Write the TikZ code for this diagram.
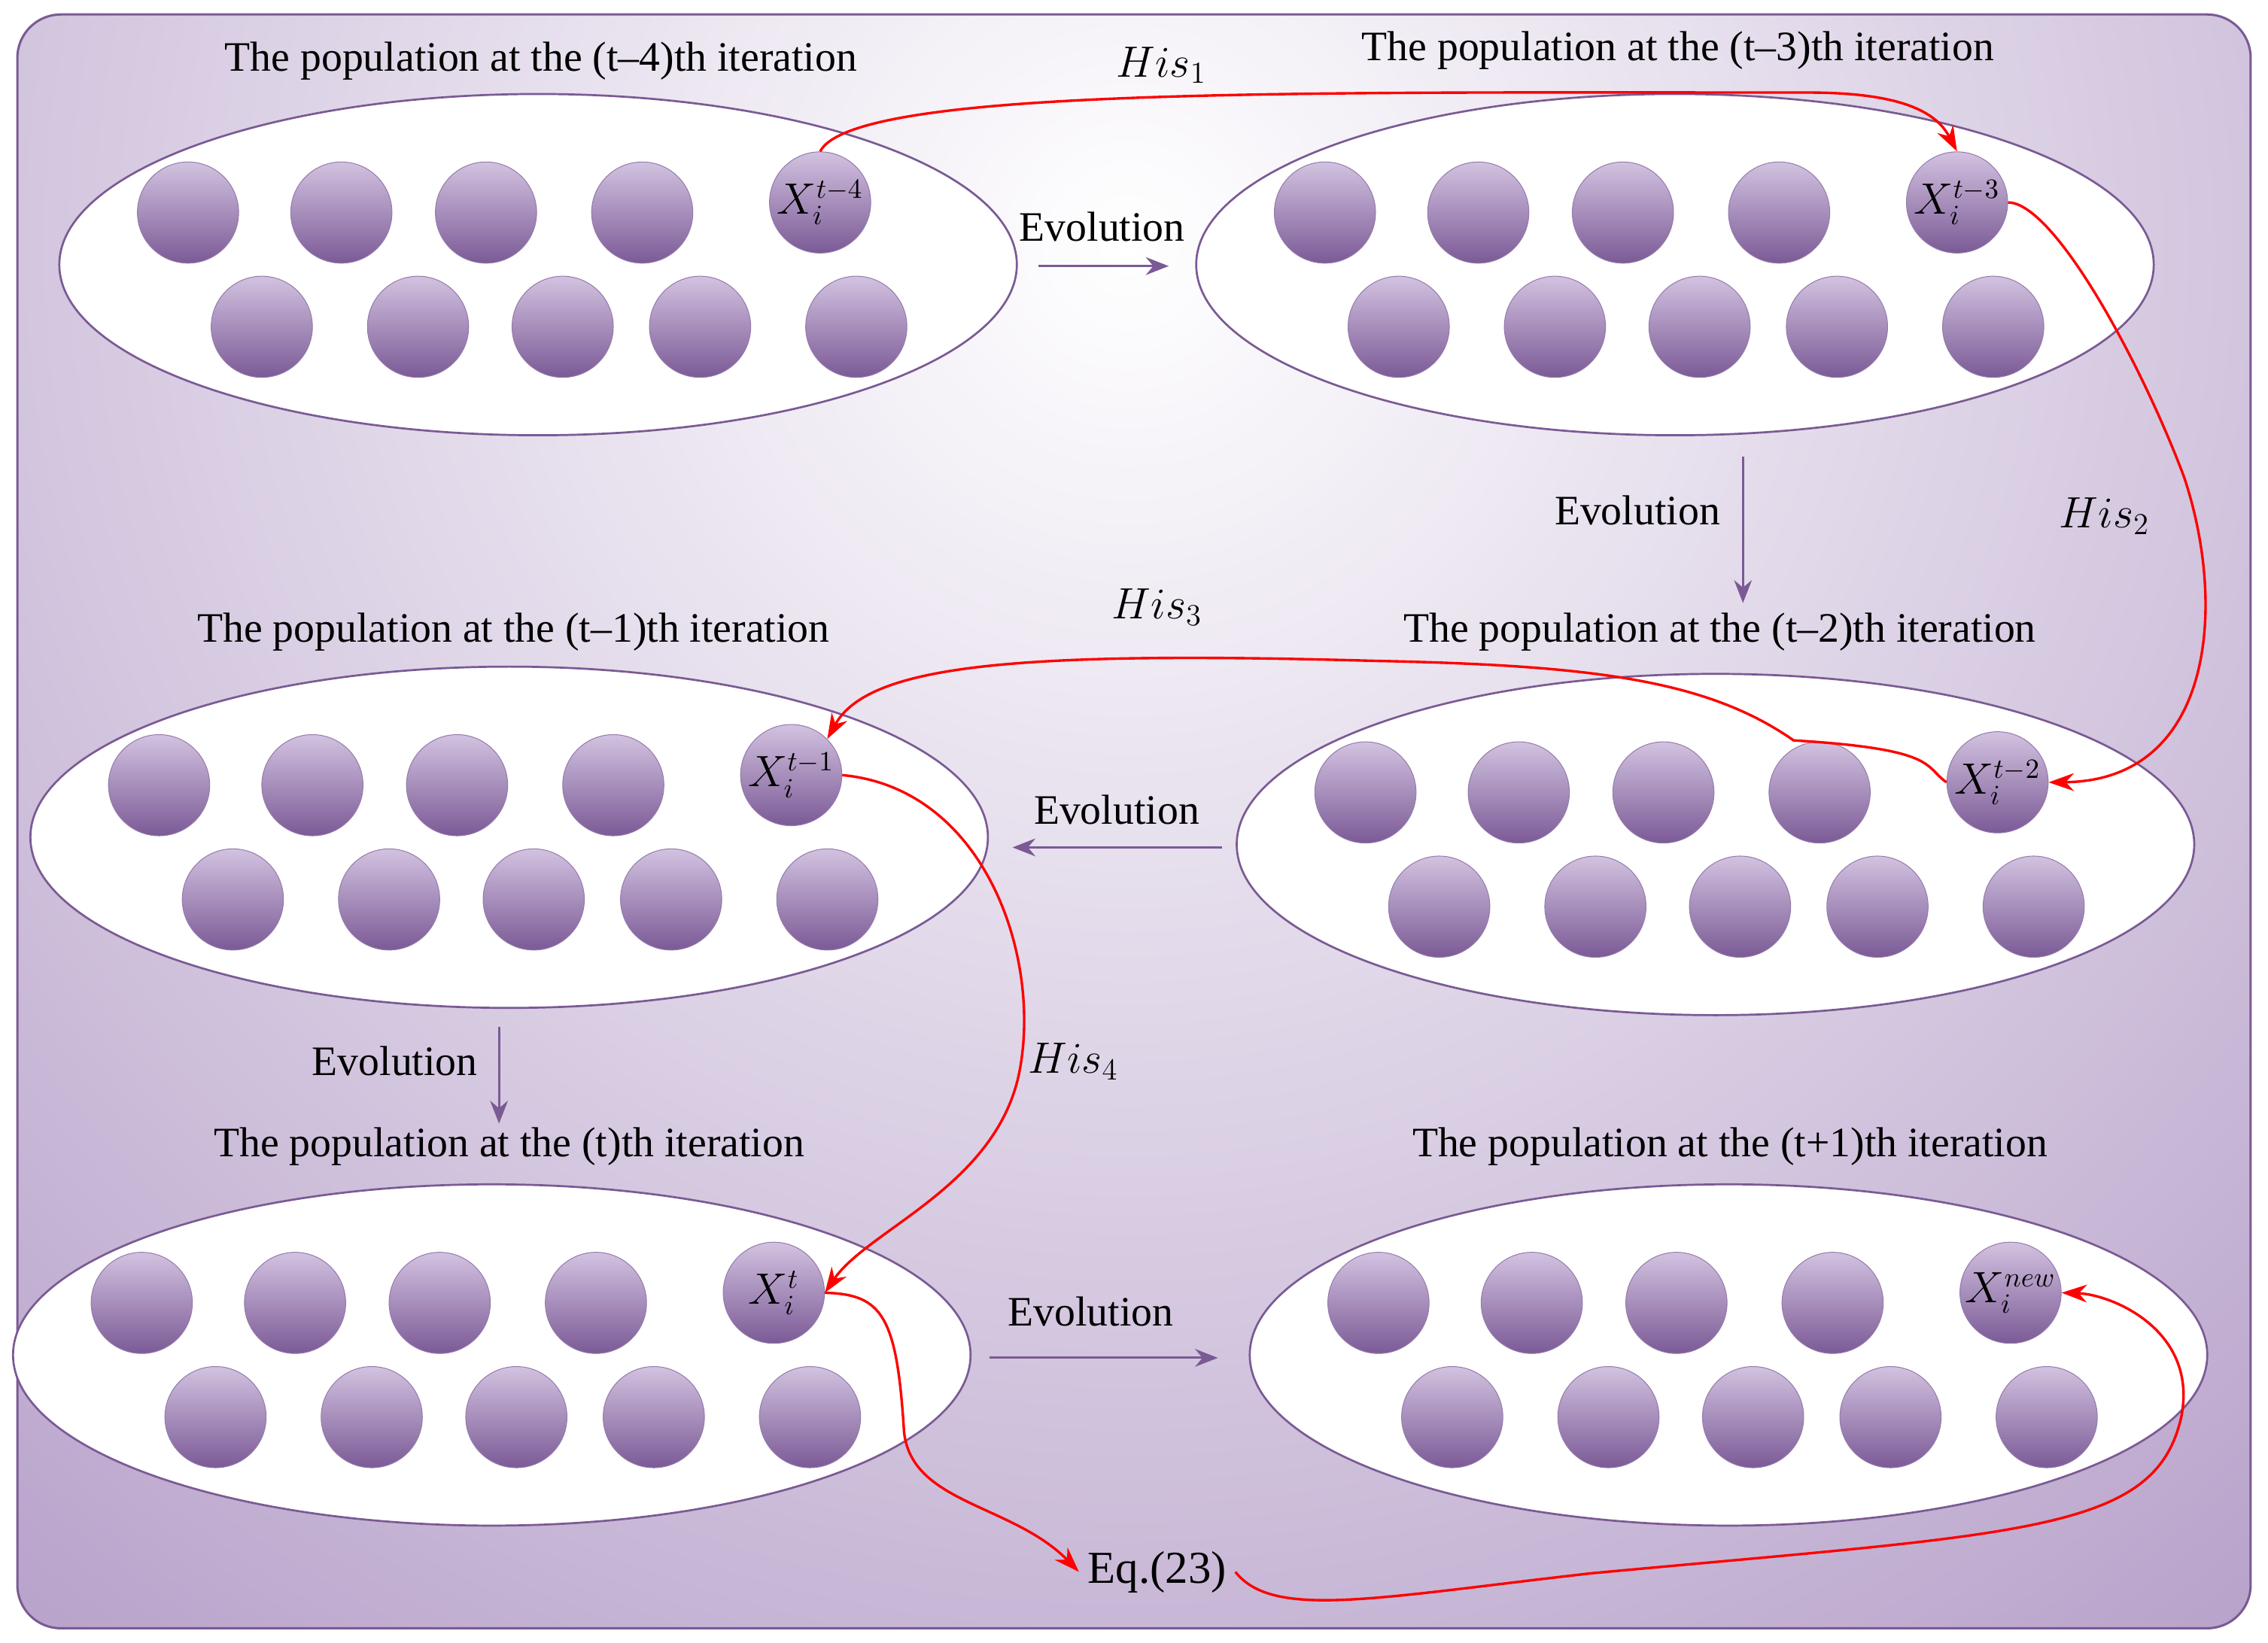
\documentclass[tikz,border=0pt]{standalone}
\usepackage{fontspec}
\setmainfont{Liberation Serif}
\usetikzlibrary{arrows.meta}
\definecolor{bgp}{HTML}{A88EBF}
\definecolor{edge}{HTML}{7A5A94}
\definecolor{ballt}{HTML}{D2C2E0}
\definecolor{ballb}{HTML}{7B5A96}
\begin{document}
\begin{tikzpicture}[x=0.02cm,y=-0.02cm,
  pop/.style={draw=edge,fill=white,line width=0.8pt},
  ball/.style={circle,minimum size=1.4cm,inner sep=0pt,top color=ballt,bottom color=ballb,draw=ballb!80,line width=0.3pt,font=\fontsize{16}{18}\selectfont},
  ttl/.style={font=\fontsize{16.5}{19}\selectfont},
  evo/.style={draw=edge,line width=0.9pt,-{Stealth[length=9pt,width=7pt]}},
  hisl/.style={draw=red,line width=1pt,-{Stealth[length=10pt,width=7pt]}},
  lab/.style={font=\fontsize{17}{20}\selectfont}]
\useasboundingbox (0,0) rectangle (1568,1136);
\begin{scope}
\clip[rounded corners=0.6cm] (12,10) rectangle (1556,1126);
\fill[bgp] (0,0) rectangle (1568,1136);
\shade[inner color=white,outer color=bgp] (780,170) circle (1500);
\end{scope}
\draw[edge,line width=0.9pt,rounded corners=0.6cm] (12,10) rectangle (1556,1126);
\newcommand{\pop}[4]{%
 \draw[pop] (#1,#2) ellipse [x radius=331,y radius=118];
 \foreach \dx in {-242,-136,-36,72} \node[ball] at (#1+\dx,#2-36) {};
 \foreach \dx in {-191,-83,17,112,220} \node[ball] at (#1+\dx,#2+43) {};
 \node[ball] (#4) at (#1+195,#2-43) {#3};}
\pop{372}{183}{$X_i^{t-4}$}{x1}
\pop{1158}{183}{$X_i^{t-3}$}{x2}
\pop{1186}{584}{$X_i^{t-2}$}{x3}
\pop{352}{579}{$X_i^{t-1}$}{x4}
\pop{340}{937}{$X_i^{t}$}{x5}
\pop{1195}{937}{$X_i^{new}$}{x6}
\node[ttl] at (374,42) {The population at the (t--4)th iteration};
\node[ttl] at (1160,35) {The population at the (t--3)th iteration};
\node[ttl] at (1189,437) {The population at the (t--2)th iteration};
\node[ttl] at (355,437) {The population at the (t--1)th iteration};
\node[ttl] at (352,793) {The population at the (t)th iteration};
\node[ttl] at (1196,793) {The population at the (t+1)th iteration};
% evolution
\coordinate (a1) at (718,184); \coordinate (b1) at (808,184);
\draw[evo] (a1) -- (b1); \node[ttl] at (762,157) {Evolution};
\coordinate (a2) at (1205,316); \coordinate (b2) at (1205,417);
\draw[evo] (a2) -- (b2); \node[ttl] at (1132,353) {Evolution};
\coordinate (a3) at (845,586); \coordinate (b3) at (700,586);
\draw[evo] (a3) -- (b3); \node[ttl] at (772,560) {Evolution};
\coordinate (a4) at (345,710); \coordinate (b4) at (345,777);
\draw[evo] (a4) -- (b4); \node[ttl] at (273,734) {Evolution};
\coordinate (a5) at (684,939); \coordinate (b5) at (842,939);
\draw[evo] (a5) -- (b5); \node[ttl] at (754,907) {Evolution};
% his
\draw[hisl] (x1.north) .. controls (590,60) and (900,64) .. (1250,64) .. controls (1320,64) and (1340,80) .. (x2.north);
\node[lab] at (803,45) {$His_1$};
\draw[hisl] (x2.east) .. controls (1420,140) and (1480,250) .. (1510,330) .. controls (1540,420) and (1530,540) .. (x3.east);
\node[lab] at (1455,357) {$His_2$};
\draw[hisl] (x3.west) .. controls (1330,530) and (1340,518) .. (1240,512) .. controls (1180,470) and (1100,460) .. (950,457) .. controls (700,450) and (600,460) .. (x4.north east);
\node[lab] at (800,420) {$His_3$};
\draw[hisl] (x4.east) .. controls (680,545) and (720,660) .. (705,740) .. controls (690,820) and (600,850) .. (x5.east);
\node[lab] at (742,734) {$His_4$};
\node[font=\fontsize{18}{21}\selectfont] (eq) at (800,1087) {Eq.(23)};
\draw[hisl] (x5.east) .. controls (610,895) and (620,910) .. (625,990) .. controls (630,1040) and (700,1040) .. (eq.west);
\draw[hisl] (eq.east) .. controls (880,1120) and (950,1105) .. (1100,1088) .. controls (1400,1060) and (1490,1060) .. (1508,980) .. controls (1520,920) and (1460,895) .. (x6.east);
\end{tikzpicture}
\end{document}
